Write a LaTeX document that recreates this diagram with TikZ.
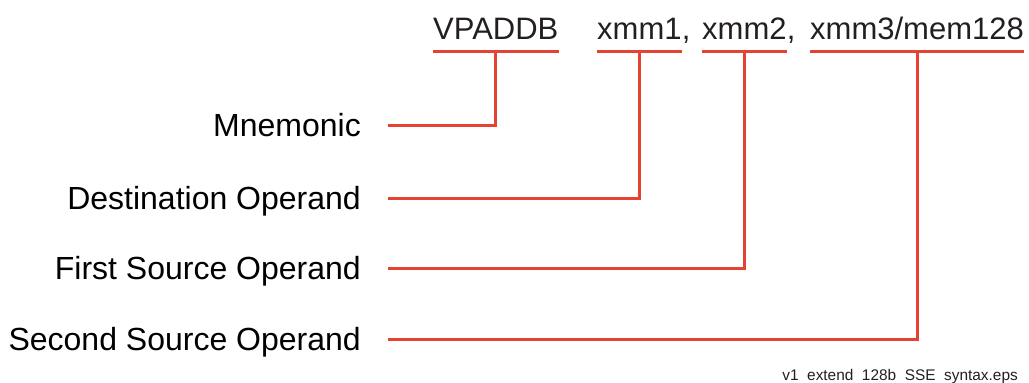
\documentclass[tikz,border=0pt]{standalone}
\usepackage{fontspec}
\setmainfont{Liberation Sans}
\usepackage{xcolor}
\usepackage{tikz}
\definecolor{markred}{HTML}{E44332}
\definecolor{inkgray}{HTML}{231F20}

\begin{document}
\begin{tikzpicture}[x=1pt,y=-1pt,
  opnd/.style={inner sep=0pt,anchor=base west,font=\fontsize{31}{37}\selectfont,text=inkgray},
  lbl/.style={inner sep=0pt,anchor=base east,font=\fontsize{32}{38}\selectfont,text=black},
  redline/.style={draw=markred,line width=3pt}]
\useasboundingbox (0,0) rectangle (1029,383);
% instruction line
\node[opnd] (mnem) at (433,39) {VPADDB};
\node[opnd] (dst) at (597,39) {xmm1};
\node[opnd] (c1) at (dst.base east) {,};
\node[opnd] (src1) at (702,39) {xmm2};
\node[opnd] (c2) at (src1.base east) {,};
\node[opnd] (src2) at (810,39) {xmm3/mem128};
% field names
\node[lbl] (lmnem) at (361,136) {Mnemonic};
\node[lbl] (ldst) at (361,209) {Destination Operand};
\node[lbl] (lsrc1) at (361,279) {First Source Operand};
\node[lbl] (lsrc2) at (361,350) {Second Source Operand};
% underlines and leaders
\foreach \op/\lb in {mnem/lmnem,dst/ldst,src1/lsrc1,src2/lsrc2} {
  \draw[redline] ([yshift=-12pt]\op.base west) -- ([yshift=-12pt]\op.base east);
  \draw[redline] ([yshift=-12pt]\op.base) |- ([xshift=27pt,yshift=11pt]\lb.base east);
}
\node[inner sep=0pt,anchor=base east,font=\fontsize{15.4}{18}\selectfont,text=inkgray] (fname) at (1018,380) {v1~~extend~~128b~~SSE~~syntax.eps};
\end{tikzpicture}
\end{document}
